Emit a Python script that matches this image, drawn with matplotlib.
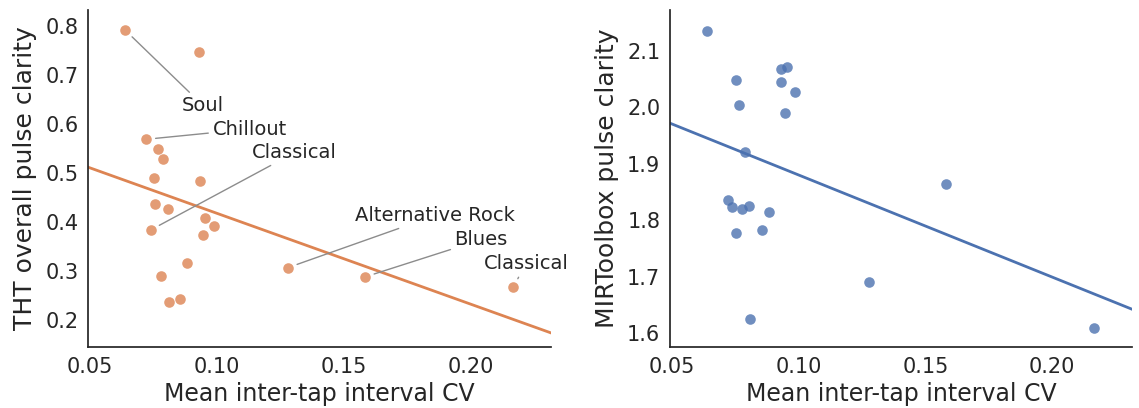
import numpy as np
import matplotlib
matplotlib.use('Agg')
import matplotlib.pyplot as plt

# mean inter-tap interval CV per track (shared by both panels)
cv = [0.0638, 0.0720, 0.0739, 0.0753, 0.0755, 0.0766, 0.0778, 0.0787, 0.0805, 0.0810,
      0.0855, 0.0882, 0.0929, 0.0932, 0.0946, 0.0953, 0.0987, 0.1279, 0.1582, 0.2166]

tht_clarity = [0.792, 0.569, 0.384, 0.490, 0.437, 0.549, 0.290, 0.529, 0.426, 0.237,
               0.243, 0.316, 0.748, 0.484, 0.374, 0.408, 0.393, 0.307, 0.288, 0.267]

mir_clarity = [2.135, 1.836, 1.823, 2.048, 1.777, 2.005, 1.819, 1.921, 1.825, 1.625,
               1.783, 1.814, 2.068, 2.045, 1.990, 2.071, 2.027, 1.690, 1.865, 1.609]

# genre labels: (index into the arrays above, label, text x, text y)
genre_idx = [0, 1, 2, 17, 18, 19]
genre_names = ['Soul', 'Chillout', 'Classical', 'Alternative Rock', 'Blues', 'Classical']
label_x = [0.0945, 0.1128, 0.1306, 0.1857, 0.2040, 0.2216]
label_y = [0.638, 0.590, 0.542, 0.413, 0.364, 0.315]

ORANGE = '#dd8452'
BLUE = '#4c72b0'
DARK = '#262626'

xlim = (0.0493, 0.2315)


def style_axes(ax):
	for side in ['top', 'right']:
		ax.spines[side].set_visible(False)
	for side in ['left', 'bottom']:
		ax.spines[side].set_color(DARK)
		ax.spines[side].set_linewidth(1.25)
	ax.tick_params(length=0, labelsize=15, colors=DARK, pad=7)
	ax.set_xticks([0.05, 0.10, 0.15, 0.20])
	ax.set_xticklabels(['0.05', '0.10', '0.15', '0.20'])
	ax.set_xlim(*xlim)


def reg_panel(ax, x, y, color):
	x = np.asarray(x)
	y = np.asarray(y)
	ax.scatter(x, y, s=58, color=color, alpha=0.8, linewidths=0, zorder=3)
	slope, icpt = np.polyfit(x, y, 1)
	xs = np.array(xlim)
	ax.plot(xs, slope * xs + icpt, color=color, lw=2, zorder=2)


fig = plt.figure(figsize=(11.39, 4.08), dpi=100)

ax1 = fig.add_axes([0.0775, 0.1495, 0.4063, 0.826])
reg_panel(ax1, cv, tht_clarity, ORANGE)
style_axes(ax1)
ax1.set_ylim(0.145, 0.833)
ax1.set_yticks([0.2, 0.3, 0.4, 0.5, 0.6, 0.7, 0.8])
ax1.set_yticklabels(['0.2', '0.3', '0.4', '0.5', '0.6', '0.7', '0.8'])
ax1.set_xlabel('Mean inter-tap interval CV', fontsize=17, color=DARK, labelpad=4)
ax1.set_ylabel('THT overall pulse clarity', fontsize=18, color=DARK, labelpad=6)

for i, name, tx, ty in zip(genre_idx, genre_names, label_x, label_y):
	ax1.annotate(name, xy=(cv[i], tht_clarity[i]), xytext=(tx, ty),
	             ha='center', va='center', fontsize=14, color=DARK,
	             arrowprops=dict(arrowstyle='-', color='#8c8c8c', lw=1,
	                             shrinkA=1, shrinkB=7))

ax2 = fig.add_axes([0.5882, 0.1495, 0.4057, 0.826])
reg_panel(ax2, cv, mir_clarity, BLUE)
style_axes(ax2)
ax2.set_ylim(1.575, 2.173)
ax2.set_yticks([1.6, 1.7, 1.8, 1.9, 2.0, 2.1])
ax2.set_yticklabels(['1.6', '1.7', '1.8', '1.9', '2.0', '2.1'])
ax2.set_xlabel('Mean inter-tap interval CV', fontsize=17, color=DARK, labelpad=4)
ax2.set_ylabel('MIRToolbox pulse clarity', fontsize=18, color=DARK, labelpad=6)

fig.savefig('out.png', dpi=100, facecolor='white')
